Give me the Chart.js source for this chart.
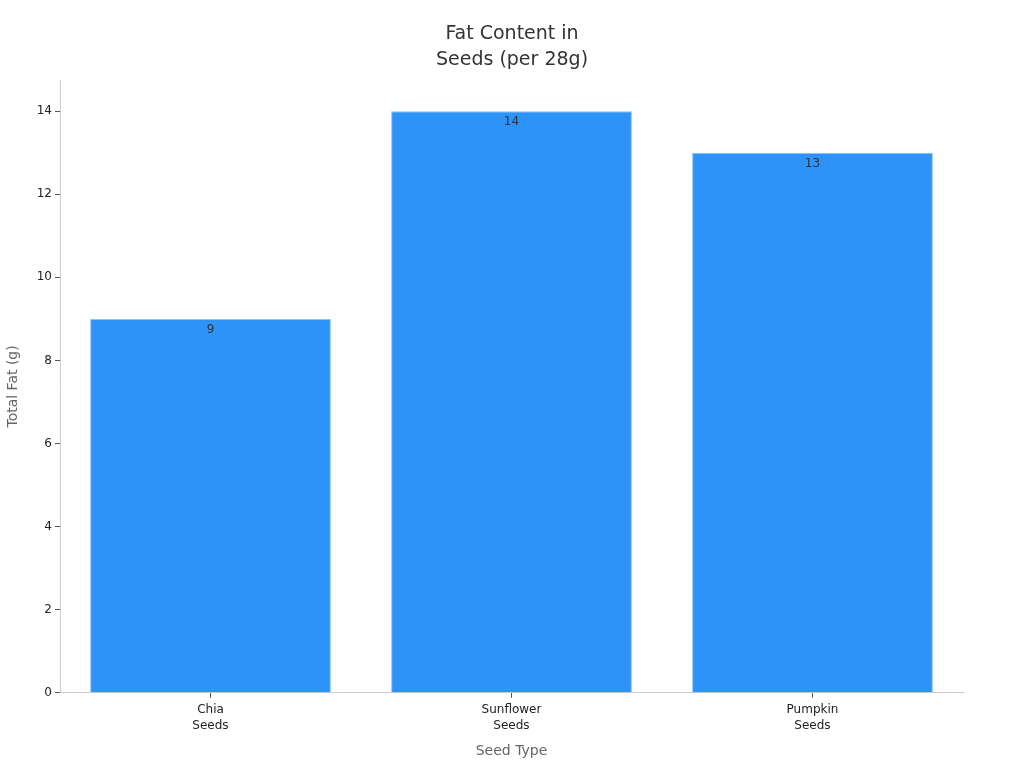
<!DOCTYPE html>
<html><head><meta charset="utf-8">
<script src="https://cdn.jsdelivr.net/npm/chart.js@4"></script>
<style>html,body{margin:0;padding:0;background:#fff}#wrap{width:1024px;height:768px}</style>
</head><body><div id="wrap"><canvas id="c" width="1024" height="768"></canvas></div>
<script>
const categories = [["Chia","Seeds"],["Sunflower","Seeds"],["Pumpkin","Seeds"]];
const fatValues = [9, 14, 13];
const titleLines = ["Fat Content in","Seeds (per 28g)"];
const xTitle = "Seed Type";
const yTitle = "Total Fat (g)";
const FONT = "'DejaVu Sans', sans-serif";

const labelPlugin = {
  id: 'barLabels',
  afterDatasetsDraw(chart) {
    const ctx = chart.ctx;
    const meta = chart.getDatasetMeta(0);
    ctx.save();
    ctx.font = "12px " + FONT;
    ctx.fillStyle = "#333";
    ctx.textAlign = "center";
    ctx.textBaseline = "middle";
    meta.data.forEach((bar, i) => {
      ctx.fillText(String(fatValues[i]), bar.x, bar.y + 11);
    });
    ctx.restore();
  }
};

const titlePlugin = {
  id: 'pageTitle',
  afterDraw(chart) {
    const ctx = chart.ctx;
    ctx.save();
    ctx.font = "19px " + FONT;
    ctx.fillStyle = "#333";
    ctx.textAlign = "center";
    ctx.textBaseline = "middle";
    titleLines.forEach((t, i) => ctx.fillText(t, chart.width / 2, 34 + i * 26));
    ctx.restore();
  }
};

new Chart(document.getElementById('c'), {
  type: 'bar',
  data: {
    labels: categories,
    datasets: [{
      data: fatValues,
      backgroundColor: '#2e93f9',
      borderColor: '#8cc3fb',
      borderWidth: 1,
      barPercentage: 0.8,
      categoryPercentage: 1.0
    }]
  },
  options: {
    responsive: false,
    animation: false,
    devicePixelRatio: 1,
    layout: { padding: { left: 5, right: 61, top: 80, bottom: 8 } },
    plugins: {
      legend: { display: false },
      tooltip: { enabled: false },
      title: { display: false }
    },
    scales: {
      x: {
        offset: true,
        grid: { display: true, drawOnChartArea: false, drawTicks: true, tickLength: 5, offset: false, color: '#555' },
        border: { display: true, color: '#ccc' },
        ticks: { color: '#222', font: { family: FONT, size: 12, lineHeight: 1.35 }, padding: 4, maxRotation: 0 },
        title: { display: true, text: xTitle, color: '#666', font: { family: FONT, size: 14 }, padding: { top: 5, bottom: 0 } }
      },
      y: {
        min: 0,
        max: 14.75,
        afterBuildTicks(scale) { scale.ticks = scale.ticks.filter(t => t.value % 2 === 0); },
        afterFit(scale) { scale.width = 55; },
        grid: { display: true, drawOnChartArea: false, drawTicks: true, tickLength: 5, color: '#555' },
        border: { display: true, color: '#ccc' },
        ticks: { stepSize: 2, color: '#222', font: { family: FONT, size: 12 }, padding: 3 },
        title: { display: true, text: yTitle, color: '#666', font: { family: FONT, size: 14 }, padding: { top: 0, bottom: 4 } }
      }
    }
  },
  plugins: [labelPlugin, titlePlugin]
});
</script>
</body></html>
